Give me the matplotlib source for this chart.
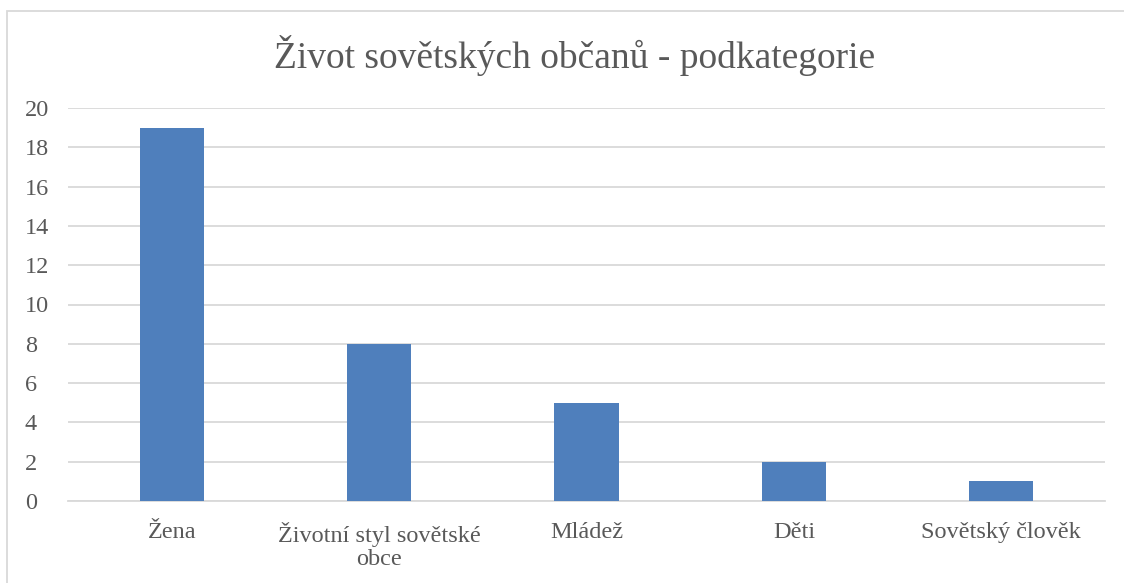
import matplotlib.pyplot as plt
from matplotlib.patches import Rectangle

# Data
categories = ["Žena", "Životní styl sovětské\nobce", "Mládež", "Děti", "Sovětský člověk"]
counts = [19, 8, 5, 2, 1]
yticks = [0, 2, 4, 6, 8, 10, 12, 14, 16, 18, 20]

plt.rcParams['font.family'] = ['Liberation Serif', 'DejaVu Serif']
text_color = "#595959"
grid_color = "#d9d9d9"

fig = plt.figure(figsize=(11.24, 5.83), dpi=100)
ax = fig.add_axes([68/1124, 1 - 501/583, (1105 - 68)/1124, (501 - 108)/583])

x = range(len(categories))
ax.bar(x, counts, width=0.31, color="#4f7fbc", zorder=3)

ax.set_xlim(-0.5, len(categories) - 0.5)
ax.set_ylim(0, 20)
ax.set_yticks(yticks)
ax.set_xticks(list(x))
ax.set_xticklabels(categories, linespacing=1.15)
ax.grid(axis="y", color=grid_color, linewidth=1.3, zorder=0)
ax.tick_params(axis="both", length=0, labelsize=17.5, colors=text_color)
ax.tick_params(axis="x", pad=15)
ax.tick_params(axis="y", pad=31)
for lbl in ax.get_yticklabels():
    lbl.set_horizontalalignment("left")

for side in ["top", "right", "left"]:
    ax.spines[side].set_visible(False)
ax.spines["bottom"].set_color(grid_color)
ax.spines["bottom"].set_linewidth(1.3)

fig.text(575/1124, 1 - 55/583, "Život sovětských občanů - podkategorie",
         ha="center", va="center", fontsize=27, color=text_color)

# outer chart border
fig.add_artist(Rectangle((7/1124, -0.1), 1.2, 1 - 11/583 + 0.1,
                         transform=fig.transFigure, fill=False,
                         edgecolor="#d9d9d9", linewidth=1.3))

fig.savefig("out.png", dpi=100)
